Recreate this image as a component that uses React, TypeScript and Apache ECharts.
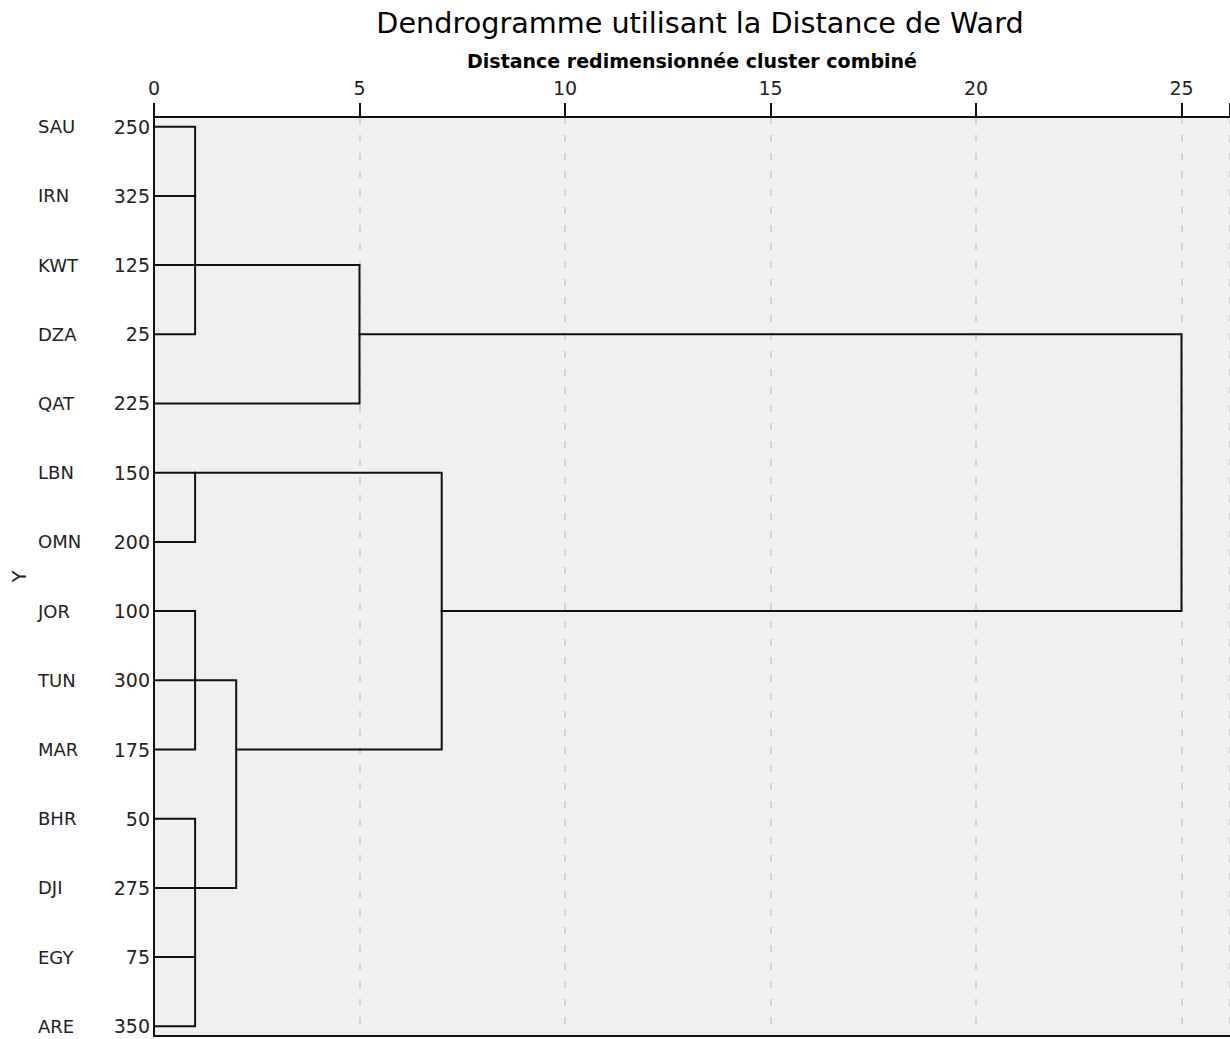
import React, { useEffect, useRef } from "react";
import * as echarts from "echarts";

const leafCodes = ["SAU", "IRN", "KWT", "DZA", "QAT", "LBN", "OMN", "JOR", "TUN", "MAR", "BHR", "DJI", "EGY", "ARE"];
const leafIds = [250, 325, 125, 25, 225, 150, 200, 100, 300, 175, 50, 275, 75, 350];
const xTicks = [0, 5, 10, 15, 20, 25];

// Each merge: rows of its children, distance where each child's line starts, and the merge distance
const mergeHeights = [1, 5, 1, 1, 1, 2, 7, 25];
const mergeChildRows = [
  [0, 1, 2, 3],
  [2, 4],
  [5, 6],
  [7, 8, 9],
  [10, 11, 12, 13],
  [8, 11],
  [5, 9],
  [3, 7],
];
const mergeChildStarts = [
  [0, 0, 0, 0],
  [1, 0],
  [0, 0],
  [0, 0, 0],
  [0, 0, 0, 0],
  [1, 1],
  [1, 2],
  [5, 7],
];

const FONT = "'DejaVu Sans', Verdana, sans-serif";

export default function App() {
  const ref = useRef<HTMLDivElement>(null);
  useEffect(() => {
    if (!ref.current) return;
    const chart = echarts.init(ref.current, null, { renderer: "svg" });
    const segs: any[] = [];
    mergeHeights.forEach((h, i) => {
      const rows = mergeChildRows[i];
      const starts = mergeChildStarts[i];
      const first = rows[0];
      const last = rows[rows.length - 1];
      segs.push({
        coords: [
          [starts[0], first],
          [h, first],
          [h, last],
          [starts[rows.length - 1], last],
        ],
      });
      for (let k = 1; k < rows.length - 1; k++) {
        segs.push({ coords: [[starts[k], rows[k]], [h, rows[k]]] });
      }
    });
    const rowValues = leafCodes.map((_, i) => i);
    const xMax = 26.18;
    chart.setOption({
      animation: false,
      backgroundColor: "#ffffff",
      title: {
        text: "Dendrogramme utilisant la Distance de Ward",
        left: 695,
        textAlign: "center",
        top: 3,
        textStyle: { fontFamily: FONT, fontSize: 28.7, fontWeight: "normal", color: "#000" },
      },
      grid: {
        left: 154,
        right: 0,
        top: 117,
        bottom: 3,
        show: true,
        backgroundColor: "#f0f0f0",
        borderWidth: 0,
        containLabel: false,
        outerBoundsMode: "none",
      },
      xAxis: [
        {
          type: "value",
          position: "top",
          min: 0,
          max: xMax,
          interval: 5,
          name: "Distance redimensionnée cluster combiné",
          nameLocation: "middle",
          nameGap: 47,
          nameMoveOverlap: false,
          nameTextStyle: { fontFamily: FONT, fontSize: 19, fontWeight: "bold", color: "#000" },
          axisLine: { show: true, onZero: false, lineStyle: { color: "#111", width: 2 } },
          axisTick: { show: true, length: 14, inside: false, lineStyle: { color: "#111", width: 2 } },
          axisLabel: {
            fontFamily: FONT,
            fontSize: 19,
            color: "#222",
            margin: 20,
            customValues: xTicks,
          },
          splitLine: {
            show: true,
            lineStyle: { color: "#d2d2d2", width: 2, type: [7, 11] },
          },
        },
        {
          type: "value",
          position: "bottom",
          min: 0,
          max: xMax,
          axisLine: { show: true, onZero: false, lineStyle: { color: "#111", width: 2 } },
          axisTick: { show: false },
          axisLabel: { show: false },
          splitLine: { show: false },
        },
      ],
      yAxis: [
        {
          type: "value",
          inverse: true,
          min: -0.14,
          max: 13.14,
          name: "Y",
          nameLocation: "middle",
          nameGap: 126,
          nameRotate: 90,
          nameMoveOverlap: false,
          nameTextStyle: { fontFamily: FONT, fontSize: 19, color: "#222" },
          axisLine: { show: true, onZero: false, lineStyle: { color: "#111", width: 2 } },
          axisTick: { show: false },
          axisLabel: {
            customValues: rowValues,
            formatter: (v: number) => String(leafIds[Math.round(v)]),
            fontFamily: FONT,
            fontSize: 19,
            color: "#222",
            margin: 4,
          },
          splitLine: { show: false },
        },
        {
          type: "value",
          inverse: true,
          position: "left",
          min: -0.14,
          max: 13.14,
          axisLine: { show: false, onZero: false },
          axisTick: { show: false },
          axisLabel: {
            customValues: rowValues,
            formatter: (v: number) => leafCodes[Math.round(v)],
            fontFamily: FONT,
            fontSize: 18,
            color: "#222",
            margin: 116,
            align: "left",
            padding: [6, 0, 0, 0],
          },
          splitLine: { show: false },
        },
      ],
      series: [
        {
          type: "lines",
          coordinateSystem: "cartesian2d",
          xAxisIndex: 0,
          yAxisIndex: 0,
          polyline: true,
          silent: true,
          lineStyle: { color: "#111", width: 2, opacity: 1, join: "miter", cap: "square" },
          data: segs,
        },
      ],
    });
    return () => chart.dispose();
  }, []);
  return (
    <div
      ref={ref}
      style={{ position: "absolute", left: 0, top: 0, width: 1230, height: 1039 }}
    />
  );
}
